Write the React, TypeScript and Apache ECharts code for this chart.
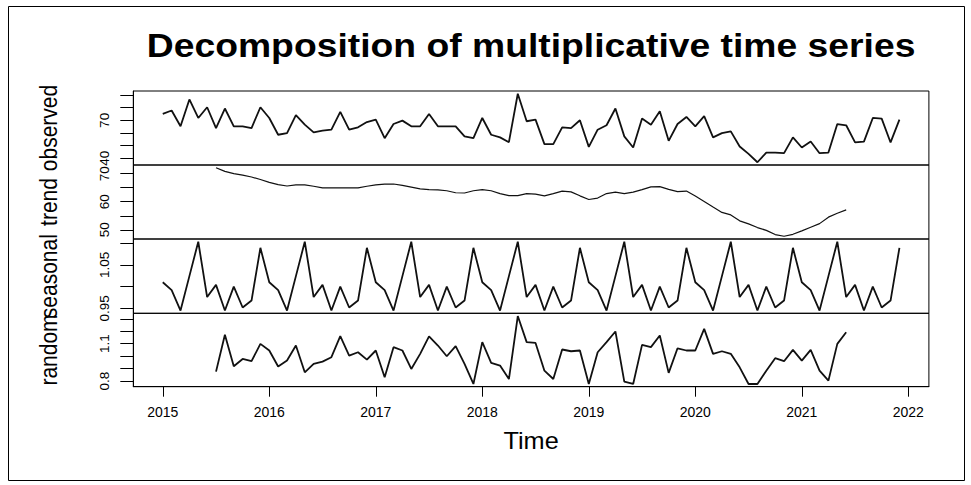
import React, { useEffect, useRef } from "react";
import * as echarts from "echarts";

// ---- data (monthly, Jan 2015 .. Dec 2021) ----
const startYear = 2015;

const observed = [
  75.1, 77.8, 65.3, 86.6, 71.9, 80.4, 63.9, 79.4, 65.3, 65.3, 63.9, 80.4,
  71.9, 58.6, 59.9, 74.1, 66.6, 60.5, 61.8, 62.6, 76.7, 62.6, 64.5, 68.7,
  70.6, 55.9, 67.1, 69.8, 65.3, 65.3, 75.1, 65.3, 65.3, 65.3, 57.3, 55.9,
  71.9, 58.6, 56.5, 52.7, 91.1, 69.3, 70.6, 51.2, 51.2, 64.5, 63.9, 70.1,
  49.0, 62.6, 66.1, 79.4, 57.3, 48.5, 71.4, 66.6, 77.2, 53.8, 67.1, 72.7,
  65.3, 73.3, 56.5, 59.9, 61.3, 49.3, 43.4, 36.8, 44.5, 44.5, 44.0, 56.5,
  48.5, 53.2, 44.0, 44.5, 67.1, 66.1, 52.5, 53.2, 71.9, 71.4, 52.5, 70.6,
];

// trend and random start at Jul 2015 (month index 6) and end at Jun 2021
const componentStartIndex = 6;

const trend = [
  72.1, 70.8, 70.0, 69.5, 68.8, 67.9,
  66.9, 66.1, 65.6, 66.0, 66.0, 65.5, 64.9, 64.9, 64.9, 64.9, 64.9, 65.5,
  66.0, 66.3, 66.3, 65.8, 65.2, 64.6, 64.3, 64.2, 63.9, 63.2, 63.1, 63.9,
  64.3, 63.9, 62.9, 62.2, 62.2, 62.9, 62.7, 62.1, 62.9, 63.8, 63.5, 62.1,
  60.8, 61.3, 62.9, 63.4, 62.9, 63.4, 64.3, 65.3, 65.4, 64.4, 63.6, 63.8,
  62.0, 60.1, 58.1, 56.2, 55.3, 53.2, 52.1, 50.8, 49.8, 48.3, 47.7, 48.4,
  49.6, 50.9, 52.2, 54.5, 55.9, 57.1,
];

const seasonal = [
  1.01, 0.992, 0.945, 1.024, 1.103, 0.976, 1.004, 0.945, 1.0, 0.952, 0.968, 1.089,
  1.01, 0.992, 0.945, 1.024, 1.103, 0.976, 1.004, 0.945, 1.0, 0.952, 0.968, 1.089,
  1.01, 0.992, 0.945, 1.024, 1.103, 0.976, 1.004, 0.945, 1.0, 0.952, 0.968, 1.089,
  1.01, 0.992, 0.945, 1.024, 1.103, 0.976, 1.004, 0.945, 1.0, 0.952, 0.968, 1.089,
  1.01, 0.992, 0.945, 1.024, 1.103, 0.976, 1.004, 0.945, 1.0, 0.952, 0.968, 1.089,
  1.01, 0.992, 0.945, 1.024, 1.103, 0.976, 1.004, 0.945, 1.0, 0.952, 0.968, 1.089,
  1.01, 0.992, 0.945, 1.024, 1.103, 0.976, 1.004, 0.945, 1.0, 0.952, 0.968, 1.089,
];

const random = [
  0.875, 1.171, 0.918, 0.977, 0.959, 1.098,
  1.045, 0.916, 0.964, 1.085, 0.87, 0.937, 0.956, 0.991, 1.16, 1.004, 1.031, 0.972,
  1.045, 0.83, 1.072, 1.045, 0.897, 1.018, 1.158, 1.085, 0.999, 1.08, 0.937, 0.776,
  1.112, 0.945, 0.924, 0.816, 1.322, 1.112, 1.106, 0.883, 0.816, 1.053, 1.039, 1.045,
  0.776, 1.031, 1.112, 1.198, 0.795, 0.776, 1.09, 1.072, 1.166, 0.865, 1.063, 1.045,
  1.045, 1.219, 1.018, 1.039, 1.018, 0.91, 0.776, 0.776, 0.883, 0.983, 0.959, 1.05,
  0.964, 1.05, 0.883, 0.803, 1.098, 1.192,
];

const yearTicks = [2015, 2016, 2017, 2018, 2019, 2020, 2021, 2022];
const observedTicks = [40, 50, 60, 70, 80, 90];
const observedLabels = [40, 70];
const trendTicks = [50, 55, 60, 65, 70];
const trendLabels = [50, 60, 70];
const seasonalTicks = [0.95, 1.0, 1.05, 1.1];
const seasonalLabels = [0.95, 1.05];
const randomTicks = [0.8, 0.9, 1.0, 1.1, 1.2, 1.3];
const randomLabels = [0.8, 1.1];
const panelNames = ["observed", "trend", "seasonal", "random"];

const titleText = "Decomposition of multiplicative time series";
const xName = "Time";

const FONT = '"Liberation Sans", Arial, Helvetica, sans-serif';

function padRange(vals: number[]): [number, number] {
  const mn = Math.min(...vals);
  const mx = Math.max(...vals);
  const d = (mx - mn) * 0.04;
  return [mn - d, mx + d];
}

function toPairs(vals: number[], offset: number) {
  return vals.map((v, k) => [startYear + (offset + k) / 12, v]);
}

function buildOption() {
  const tMin = startYear;
  const tMax = startYear + (observed.length - 1) / 12;
  const [xMin, xMax] = padRange([tMin, tMax]);

  const left = 133.3;
  const width = 795.6;
  const panels = [
    { top: 91, height: 74 },
    { top: 165, height: 74 },
    { top: 239, height: 74.3 },
    { top: 313.3, height: 73.4 },
  ];

  const panelData = [
    { data: toPairs(observed, 0), ticks: observedTicks, labels: observedLabels, width: 1.8 },
    { data: toPairs(trend, componentStartIndex), ticks: trendTicks, labels: trendLabels, width: 1.2 },
    { data: toPairs(seasonal, 0), ticks: seasonalTicks, labels: seasonalLabels, width: 1.8 },
    { data: toPairs(random, componentStartIndex), ticks: randomTicks, labels: randomLabels, width: 1.8 },
  ];

  const grid = panels.map((p) => ({
    left,
    top: p.top,
    width,
    height: p.height,
    show: true,
    borderColor: "#000",
    borderWidth: 1,
    backgroundColor: "transparent",
  }));

  const xAxis = panels.map((_, i) => {
    const isBottom = i === panels.length - 1;
    return {
      type: "value",
      gridIndex: i,
      min: xMin,
      max: xMax,
      show: isBottom,
      splitLine: { show: false },
      axisLine: { show: isBottom, lineStyle: { color: "#000", width: 1 } },
      axisTick: {
        show: isBottom,
        customValues: yearTicks,
        length: 10,
        lineStyle: { color: "#000", width: 1 },
      },
      axisLabel: {
        show: isBottom,
        customValues: yearTicks,
        margin: 18,
        fontSize: 14,
        fontFamily: FONT,
        color: "#000",
        formatter: (v: number) => String(Math.round(v)),
      },
    };
  });

  const yAxis = panelData.map((p, i) => {
    const [mn, mx] = padRange(p.data.map((d) => d[1] as number));
    return {
      type: "value",
      gridIndex: i,
      min: mn,
      max: mx,
      splitLine: { show: false },
      axisLine: { show: true, lineStyle: { color: "#000", width: 1 } },
      axisTick: {
        show: true,
        customValues: p.ticks,
        length: 13,
        lineStyle: { color: "#000", width: 1 },
      },
      axisLabel: {
        show: true,
        customValues: p.labels,
        rotate: 90,
        margin: 22,
        fontSize: 13.5,
        fontFamily: FONT,
        color: "#000",
      },
    };
  });

  const series = panelData.map((p, i) => ({
    type: "line",
    name: panelNames[i],
    xAxisIndex: i,
    yAxisIndex: i,
    data: p.data,
    showSymbol: false,
    symbol: "none",
    lineStyle: { color: "#111", width: p.width },
    silent: true,
  }));

  const ylabGraphics = panels.map((p, i) => ({
    type: "text",
    x: 49,
    y: p.top + p.height / 2,
    rotation: Math.PI / 2,
    scaleY: 1.12,
    style: {
      text: panelNames[i],
      fontSize: 21,
      fontFamily: FONT,
      fill: "#000",
      align: "center",
      verticalAlign: "middle",
      textAlign: "center",
      textVerticalAlign: "middle",
    },
  }));

  const graphic = [
    {
      type: "rect",
      shape: { x: 8.5, y: 6.5, width: 956, height: 474 },
      style: { fill: "none", stroke: "#000", lineWidth: 1 },
      silent: true,
    },
    {
      type: "text",
      x: left + width / 2,
      y: 45,
      scaleX: 1.13,
      style: {
        text: titleText,
        fontSize: 33,
        fontWeight: "bold",
        fontFamily: FONT,
        fill: "#000",
        align: "center",
        verticalAlign: "middle",
        textAlign: "center",
        textVerticalAlign: "middle",
      },
    },
    {
      type: "text",
      x: left + width / 2,
      y: 441,
      scaleX: 1.1,
      style: {
        text: xName,
        fontSize: 23,
        fontFamily: FONT,
        fill: "#000",
        align: "center",
        verticalAlign: "middle",
        textAlign: "center",
        textVerticalAlign: "middle",
      },
    },
    ...ylabGraphics,
  ];

  return {
    animation: false,
    backgroundColor: "#fff",
    grid,
    xAxis,
    yAxis,
    series,
    graphic,
  };
}

export default function App() {
  const ref = useRef<HTMLDivElement>(null);
  useEffect(() => {
    if (!ref.current) return;
    const chart = echarts.init(ref.current, null, { renderer: "svg" });
    chart.setOption(buildOption() as any);
    return () => {
      chart.dispose();
    };
  }, []);
  return (
    <div
      ref={ref}
      style={{
        position: "fixed",
        left: 0,
        top: 0,
        width: 971,
        height: 485,
        background: "#fff",
      }}
    />
  );
}
